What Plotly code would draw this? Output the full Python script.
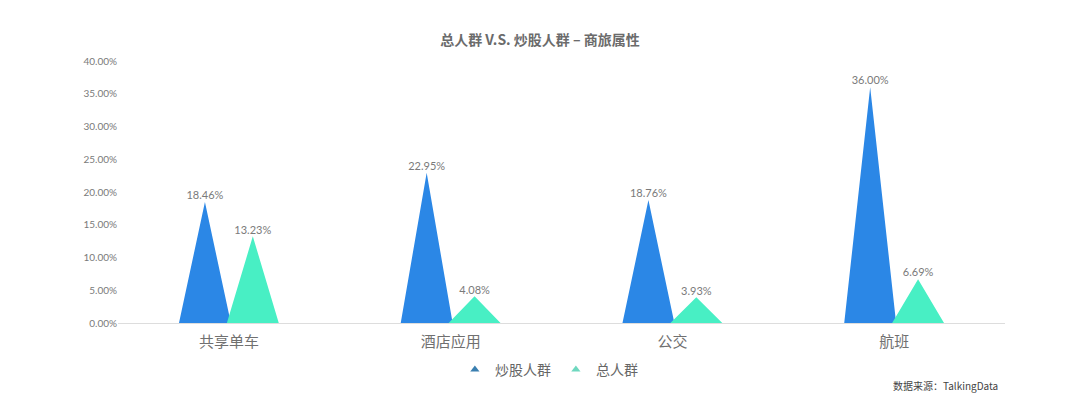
import plotly.graph_objects as go

categories = ["共享单车", "酒店应用", "公交", "航班"]
series_names = ["炒股人群", "总人群"]
stock_values = [18.46, 22.95, 18.76, 36.00]
total_values = [13.23, 4.08, 3.93, 6.69]
y_ticks = [0, 5, 10, 15, 20, 25, 30, 35, 40]

colors = ["#2b87e6", "#48efc4"]
legend_colors = ["#3a7fb0", "#6fd8bf"]
offsets = [-0.108, 0.108]
half_w = 0.117

fig = go.Figure()

for s, (name, vals) in enumerate(zip(series_names, [stock_values, total_values])):
    xs, ys = [], []
    for i, v in enumerate(vals):
        c = i + offsets[s]
        xs += [c - half_w, c, c + half_w, c - half_w, None]
        ys += [0, v, 0, 0, None]
    fig.add_trace(go.Scatter(
        x=xs, y=ys, fill="toself", fillcolor=colors[s], mode="lines",
        line=dict(width=0, color=colors[s]), showlegend=False, hoverinfo="skip"))
    fig.add_trace(go.Scatter(
        x=[i + offsets[s] for i in range(len(vals))], y=vals, mode="text",
        text=[f"{v:.2f}%" for v in vals], textposition="top center",
        textfont=dict(family="Lato, Roboto, sans-serif", size=11, color="#7a7a7a"),
        showlegend=False, hoverinfo="skip"))

for s, name in enumerate(series_names):
    fig.add_trace(go.Scatter(
        x=[None], y=[None], mode="markers", name=name,
        marker=dict(symbol="triangle-up", size=8, color=legend_colors[s])))

fig.update_layout(
    width=1064, height=385,
    margin=dict(l=110, r=67, t=53, b=70, autoexpand=False),
    paper_bgcolor="white", plot_bgcolor="white",
    title=dict(text="<b>总人群 V.S. 炒股人群 – 商旅属性</b>", x=0.5, xanchor="center",
               y=0.917, yanchor="middle",
               font=dict(family="Noto Sans CJK SC", size=14, color="#6b6b6b")),
    xaxis=dict(range=[-0.5, 3.5], tickvals=list(range(len(categories))), ticktext=categories,
               showgrid=False, zeroline=False, showline=True, linecolor="#dddddd", linewidth=1,
               ticks="outside", ticklen=5, tickcolor="rgba(0,0,0,0)",
               tickfont=dict(family="Noto Sans CJK SC", size=15, color="#707070")),
    yaxis=dict(range=[0, 40], tickvals=y_ticks, ticktext=[f"{t:.2f}%" for t in y_ticks],
               showgrid=False, zeroline=False, showline=False, ticks="",
               tickfont=dict(family="Lato, Roboto, sans-serif", size=10, color="#7a7a7a")),
    legend=dict(orientation="h", xref="container", yref="container",
                x=0.42, xanchor="left", y=0.06, yanchor="middle",
                font=dict(family="Noto Sans CJK SC", size=14, color="#666666"),
                itemwidth=30, tracegroupgap=0),
    annotations=[dict(text="数据来源：TalkingData", xref="paper", yref="paper",
                      x=0.994, y=-0.237, xanchor="right", yanchor="middle", showarrow=False,
                      font=dict(family="Noto Sans CJK SC", size=10, color="#444444"))],
)

fig.write_html("out.html")
